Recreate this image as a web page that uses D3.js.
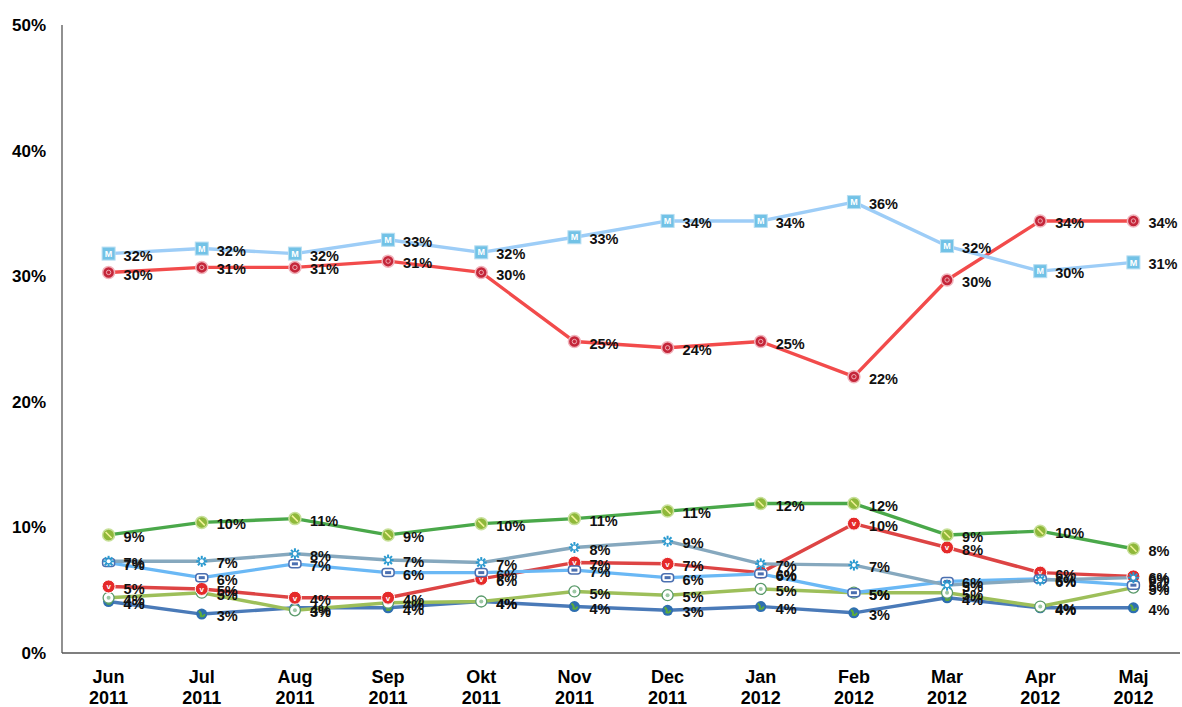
<!DOCTYPE html>
<html><head><meta charset="utf-8">
<script src="https://cdn.jsdelivr.net/npm/d3@7"></script>
<style>body{margin:0;background:#fff}svg{display:block;font-family:"Liberation Sans",Arial,sans-serif}</style>
</head><body><div id="chart"></div>
<script>
const months = ["Jun","Jul","Aug","Sep","Okt","Nov","Dec","Jan","Feb","Mar","Apr","Maj"];
const years  = ["2011","2011","2011","2011","2011","2011","2011","2012","2012","2012","2012","2012"];
const yTicks = [0,10,20,30,40,50];

const seriesLightBlue = [31.8,32.2,31.8,32.9,31.9,33.1,34.4,34.4,35.9,32.4,30.4,31.1];
const seriesRed       = [30.3,30.7,30.7,31.2,30.3,24.8,24.3,24.8,22.0,29.7,34.4,34.4];
const seriesGreen     = [9.4,10.4,10.7,9.4,10.3,10.7,11.3,11.9,11.9,9.4,9.7,8.3];
const seriesGreyBlue  = [7.3,7.3,7.9,7.4,7.2,8.4,8.9,7.1,7.0,5.4,5.8,6.0];
const seriesSkyBlue   = [7.2,6.0,7.1,6.4,6.4,6.6,6.0,6.3,4.8,5.7,5.9,5.4];
const seriesRed2      = [5.3,5.1,4.4,4.4,5.9,7.2,7.1,6.4,10.3,8.4,6.4,6.1];
const seriesLime      = [4.4,4.8,3.4,4.0,4.1,4.9,4.6,5.1,4.8,4.8,3.7,5.2];
const seriesNavy      = [4.1,3.1,3.6,3.6,4.1,3.7,3.4,3.7,3.2,4.4,3.6,3.6];

const series = [
  {values: seriesNavy,      color:"#4a7ab8", marker:"globe"},
  {values: seriesLime,      color:"#9dbf5a", marker:"flower"},
  {values: seriesRed2,      color:"#dd4444", marker:"v"},
  {values: seriesSkyBlue,   color:"#6ab8f5", marker:"pad"},
  {values: seriesGreyBlue,  color:"#86a8be", marker:"star"},
  {values: seriesGreen,     color:"#4aa84a", marker:"ball"},
  {values: seriesRed,       color:"#f24b4b", marker:"rose"},
  {values: seriesLightBlue, color:"#9dcdf7", marker:"m"}
];

const W = 1182, H = 707;
const m = {left:62, right:2, top:25, bottom:54};
const svg = d3.select("#chart").append("svg").attr("width",W).attr("height",H);

const x = d3.scalePoint().domain(d3.range(months.length)).range([m.left+46.6, W-m.right-46.6]);
const y = d3.scaleLinear().domain([0,50]).range([H-m.bottom, m.top]);

// axes lines
svg.append("line").attr("x1",m.left).attr("x2",m.left).attr("y1",y(50)).attr("y2",y(0)).attr("stroke","#555").attr("stroke-width",1.3);
svg.append("line").attr("x1",m.left).attr("x2",W-m.right).attr("y1",y(0)).attr("y2",y(0)).attr("stroke","#555").attr("stroke-width",1.3);

// y tick labels
svg.selectAll(".yt").data(yTicks).enter().append("text")
  .attr("x",46).attr("y",d=>y(d)).attr("dy","0.35em").attr("text-anchor","end")
  .attr("font-size",17).attr("font-weight","bold").attr("fill","#000").text(d=>d+"%");

// x tick labels
const xl = svg.selectAll(".xt").data(months).enter().append("text")
  .attr("text-anchor","middle").attr("font-size",18).attr("font-weight","bold").attr("fill","#000");
xl.append("tspan").attr("x",(d,i)=>x(i)).attr("y",683).text(d=>d);
xl.append("tspan").attr("x",(d,i)=>x(i)).attr("y",704).text((d,i)=>years[i]);

const line = d3.line().x((d,i)=>x(i)).y(d=>y(d));

series.forEach(s=>{
  svg.append("path").datum(s.values).attr("d",line).attr("fill","none")
    .attr("stroke",s.color).attr("stroke-width",3.4).attr("stroke-linejoin","round");
});

function drawMarker(g, s){
  switch(s.marker){
    case "m":
      g.append("rect").attr("x",-6.5).attr("y",-6.5).attr("width",13).attr("height",13).attr("fill","#72c2e6").attr("stroke","#b7def2").attr("stroke-width",1);
      g.append("text").attr("text-anchor","middle").attr("dy","0.35em").attr("font-size",9).attr("font-weight","bold").attr("fill","#fff").text("M");
      break;
    case "rose":
      g.append("circle").attr("r",6).attr("fill","#c4263a").attr("stroke","#f1b4bc").attr("stroke-width",1.5);
      g.append("circle").attr("r",2.2).attr("fill","none").attr("stroke","#f7c6cc").attr("stroke-width",0.8);
      break;
    case "ball":
      g.append("circle").attr("r",6).attr("fill","#8fb83a").attr("stroke","#c8e09a").attr("stroke-width",1.5);
      g.append("line").attr("x1",-3).attr("y1",-3).attr("x2",3).attr("y2",3).attr("stroke","#f3f39a").attr("stroke-width",1.5);
      break;
    case "star":
      for(let k=0;k<4;k++){
        const a = k*Math.PI/4;
        g.append("line").attr("x1",-5.5*Math.cos(a)).attr("y1",-5.5*Math.sin(a)).attr("x2",5.5*Math.cos(a)).attr("y2",5.5*Math.sin(a)).attr("stroke","#2a9ad0").attr("stroke-width",2);
      }
      g.append("circle").attr("r",2).attr("fill","#fff");
      break;
    case "pad":
      g.append("rect").attr("x",-6).attr("y",-4).attr("width",12).attr("height",8).attr("rx",3).attr("fill","#fff").attr("stroke","#4b6fb0").attr("stroke-width",1.5);
      g.append("rect").attr("x",-3).attr("y",-1.5).attr("width",6).attr("height",3).attr("fill","#4b6fb0");
      break;
    case "v":
      g.append("circle").attr("r",6.5).attr("fill","#e52a2a").attr("stroke","#fff").attr("stroke-width",1);
      g.append("text").attr("text-anchor","middle").attr("dy","0.35em").attr("font-size",8).attr("font-weight","bold").attr("fill","#fff").text("v");
      break;
    case "flower":
      g.append("circle").attr("r",5.5).attr("fill","#fff").attr("stroke","#5a9a6a").attr("stroke-width",1.3);
      g.append("circle").attr("r",2).attr("fill","#9cc8a4");
      break;
    case "globe":
      g.append("circle").attr("r",5.5).attr("fill","#2e6fb0");
      g.append("path").attr("d","M-3,-3 Q0,-1 -1,2 Q2,3 3,0").attr("fill","none").attr("stroke","#5cab3c").attr("stroke-width",2);
      break;
  }
}

const fmt = v => Math.round(v)+"%";

series.forEach(s=>{
  s.values.forEach((v,i)=>{
    const g = svg.append("g").attr("transform",`translate(${x(i)},${y(v)})`);
    drawMarker(g,s);
  });
});
series.forEach(s=>{
  svg.selectAll(null).data(s.values).enter().append("text")
    .attr("x",(d,i)=>x(i)+15).attr("y",d=>y(d)+2).attr("dy","0.35em")
    .attr("font-size",14.5).attr("font-weight","bold").attr("fill","#111").text(fmt);
});
</script></body></html>
